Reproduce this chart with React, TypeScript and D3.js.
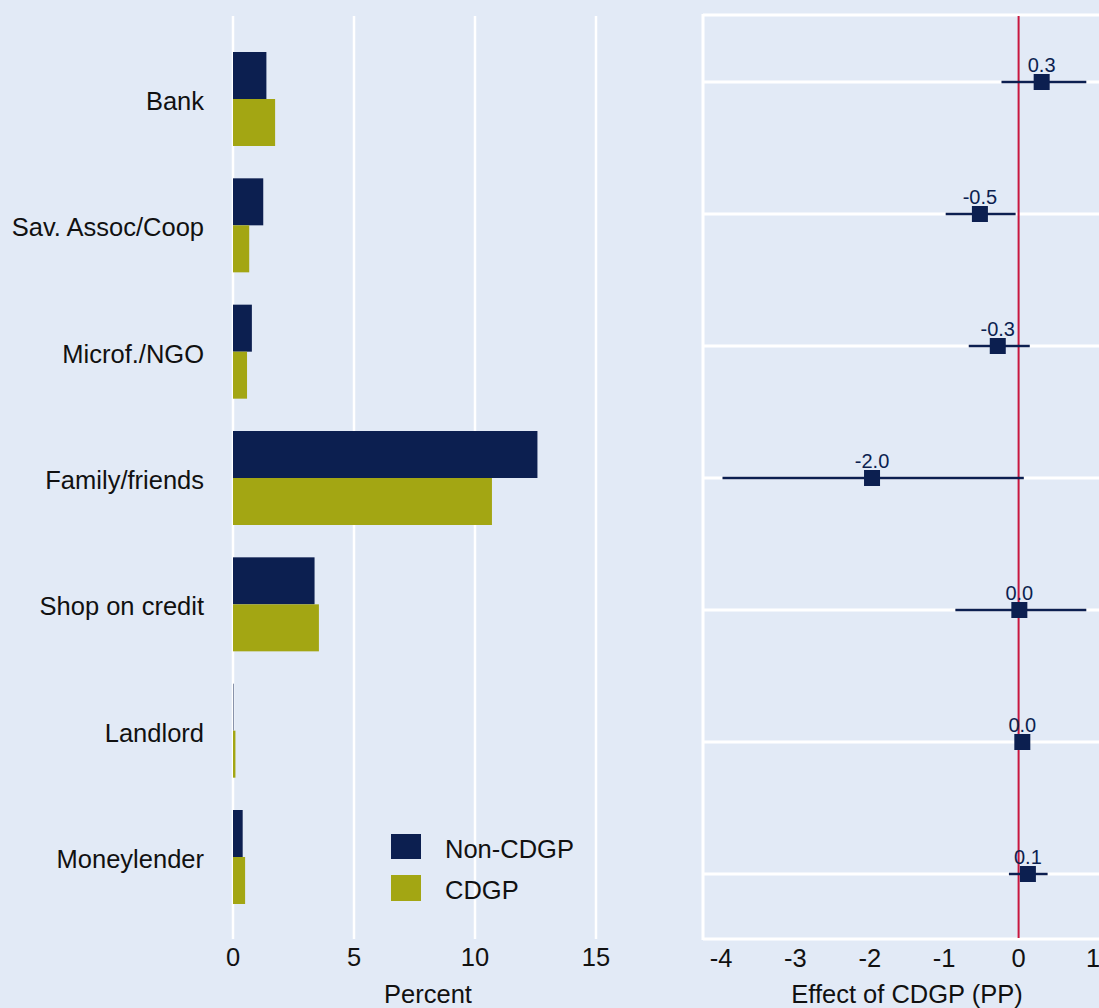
import React from "react";
import * as d3 from "d3";

const categories = ["Bank", "Sav. Assoc/Coop", "Microf./NGO", "Family/friends", "Shop on credit", "Landlord", "Moneylender"];
const nonCdgp = [1.38, 1.25, 0.78, 12.58, 3.37, 0.02, 0.4];
const cdgp = [1.74, 0.67, 0.58, 10.7, 3.55, 0.1, 0.5];
const effect = [0.31, -0.52, -0.28, -1.97, 0.01, 0.05, 0.125];
const ciLow = [-0.23, -0.98, -0.67, -3.98, -0.85, 0.0, -0.13];
const ciHigh = [0.91, -0.04, 0.15, 0.07, 0.91, 0.1, 0.39];
const effectLabels = ["0.3", "-0.5", "-0.3", "-2.0", "0.0", "0.0", "0.1"];
const leftTicks = [0, 5, 10, 15];
const rightTicks = [-4, -3, -2, -1, 0, 1];
const seriesNames = ["Non-CDGP", "CDGP"];

const BG = "#e2eaf6";
const NAVY = "#0c1f50";
const OLIVE = "#a3a613";
const RED = "#c8173f";
const FONT = "'Liberation Sans', Arial, Helvetica, sans-serif";

export default function App() {
  const xL = d3.scaleLinear().domain([0, 15]).range([233, 596]);
  const yL = d3.scalePoint<string>().domain(categories).range([99, 857]);
  const xR = d3.scaleLinear().domain([-4, 1]).range([721, 1093]);
  const yR = d3.scalePoint<string>().domain(categories).range([82, 874]);
  const barH = 47;
  const top = 16;
  const bottom = 939;

  return (
    <div style={{ position: "fixed", left: 0, top: 0 }}>
      <svg width={1099} height={1008} style={{ display: "block", fontFamily: FONT }}>
        <rect x={0} y={0} width={1099} height={1008} fill={BG} />
        {leftTicks.map((t) => (
          <line key={"lg" + t} x1={xL(t)} x2={xL(t)} y1={top} y2={bottom} stroke="#fff" strokeWidth={2.5} />
        ))}
        {categories.map((c, i) => (
          <g key={"b" + c}>
            <rect x={xL(0)} y={yL(c)! - barH} width={xL(nonCdgp[i]) - xL(0)} height={barH} fill={NAVY} />
            <rect x={xL(0)} y={yL(c)!} width={xL(cdgp[i]) - xL(0)} height={barH} fill={OLIVE} />
            <text x={204} y={yL(c)! + 11} textAnchor="end" fontSize={25.5} fill="#111">{c}</text>
          </g>
        ))}
        {leftTicks.map((t) => (
          <text key={"lt" + t} x={xL(t)} y={966} textAnchor="middle" fontSize={25.5} fill="#111">{t}</text>
        ))}
        <text x={428} y={1003} textAnchor="middle" fontSize={25.5} fill="#111">Percent</text>
        <rect x={391} y={834} width={30} height={25} fill={NAVY} />
        <rect x={391} y={875} width={30} height={26} fill={OLIVE} />
        <text x={445} y={858} fontSize={25.5} fill="#111">{seriesNames[0]}</text>
        <text x={445} y={899} fontSize={25.5} fill="#111">{seriesNames[1]}</text>

        <line x1={703} x2={1099} y1={15} y2={15} stroke="#fff" strokeWidth={3} />
        <line x1={703} x2={703} y1={14} y2={940} stroke="#fff" strokeWidth={3} />
        <line x1={703} x2={1099} y1={939} y2={939} stroke="#fff" strokeWidth={3} />
        {categories.map((c) => (
          <line key={"rg" + c} x1={703} x2={1099} y1={yR(c)} y2={yR(c)} stroke="#fff" strokeWidth={3} />
        ))}
        <line x1={xR(0)} x2={xR(0)} y1={16} y2={938} stroke={RED} strokeWidth={2} />
        {categories.map((c, i) => (
          <g key={"p" + c}>
            <line x1={xR(ciLow[i])} x2={xR(ciHigh[i])} y1={yR(c)} y2={yR(c)} stroke={NAVY} strokeWidth={2.5} />
            <rect x={xR(effect[i]) - 8} y={yR(c)! - 8} width={16} height={16} fill={NAVY} />
            <text x={xR(effect[i])} y={yR(c)! - 10} textAnchor="middle" fontSize={20} fill={NAVY}>{effectLabels[i]}</text>
          </g>
        ))}
        {rightTicks.map((t) => (
          <text key={"rt" + t} x={xR(t)} y={967} textAnchor="middle" fontSize={25.5} fill="#111">{t}</text>
        ))}
        <text x={907} y={1003} textAnchor="middle" fontSize={25.5} fill="#111">Effect of CDGP (PP)</text>
      </svg>
    </div>
  );
}
